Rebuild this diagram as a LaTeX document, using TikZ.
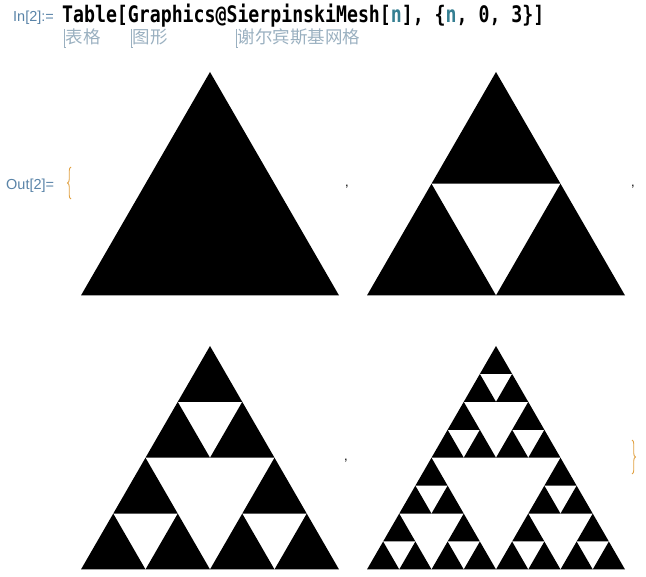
\documentclass[tikz,border=0pt]{standalone}
\usepackage{fontspec}
\setmainfont{Liberation Sans}
\newfontfamily\codefont{DejaVu Sans Mono}
\newfontfamily\cjkfont{Noto Sans CJK SC}
\usetikzlibrary{decorations.pathreplacing}

\definecolor{labelblue}{HTML}{5A84A8}
\definecolor{hintgray}{HTML}{9AB0C0}
\definecolor{varteal}{HTML}{357F92}
\definecolor{braceorange}{HTML}{E0A040}

% level, apex x, apex y, side
\newcommand\sierpmesh[4]{%
  \ifnum#1=0
    \fill (#2,#3) -- ++(-#4/2,0.866*#4) -- ++(#4,0) -- cycle;
  \else
    \begingroup
    \pgfmathsetmacro\halfside{#4/2}%
    \pgfmathsetmacro\lowx{#2-#4/4}%
    \pgfmathsetmacro\highx{#2+#4/4}%
    \pgfmathsetmacro\midy{#3+0.433*#4}%
    \pgfmathtruncatemacro\sublevel{#1-1}%
    \edef\nextparts{%
      \noexpand\sierpmesh{\sublevel}{#2}{#3}{\halfside}%
      \noexpand\sierpmesh{\sublevel}{\lowx}{\midy}{\halfside}%
      \noexpand\sierpmesh{\sublevel}{\highx}{\midy}{\halfside}}%
    \nextparts
    \endgroup
  \fi}

\begin{document}
\begin{tikzpicture}[x=1pt,y=-1pt,
    cellname/.style={font=\fontsize{14.5}{14}\selectfont, text=labelblue, inner sep=0pt, anchor=base west},
    hint/.style={font=\cjkfont\fontsize{17.5}{17}\selectfont, text=hintgray, inner sep=0pt, anchor=base west},
    sep/.style={font=\fontsize{13}{13}\selectfont, inner sep=0pt, anchor=base}]
  \useasboundingbox (0,0) rectangle (646,577);

  % input cell
  \node[cellname] (inlabel) at (13,22) {In[2]:=};
  \node[inner sep=0pt, anchor=base west] (code) at (62,23)
    {\scalebox{1}[1.25]{\codefont\bfseries\fontsize{18.2}{18}\selectfont
     Table[Graphics@SierpinskiMesh[\textcolor{varteal}{n}], \{\textcolor{varteal}{n}, 0, 3\}]}};

  \foreach \x/\word in {64/表格, 131/图形, 236/谢尔宾斯基网格} {
    \draw[hintgray, line width=0.6pt] (\x,29) -- (\x,47) -- ++(2,0);
    \node[hint] at (\x+1.5,44) {\word};
  }

  % output cell
  \node[cellname] (outlabel) at (6,190) {Out[2]=};
  \draw[braceorange, line width=0.9pt, decorate, decoration={brace, amplitude=3.5pt}]
    (71,199) -- (71,167);
  \draw[braceorange, line width=0.9pt, decorate, decoration={brace, amplitude=3.5pt}]
    (632,440) -- (632,474);

  \foreach \x/\y in {347/187, 633/187, 346/461}
    \node[sep] at (\x,\y) {,};

  % the four meshes
  \sierpmesh{0}{210}{72}{258}
  \sierpmesh{1}{496}{72}{258}
  \sierpmesh{2}{210}{346}{258}
  \sierpmesh{3}{496}{346}{258}
\end{tikzpicture}
\end{document}
